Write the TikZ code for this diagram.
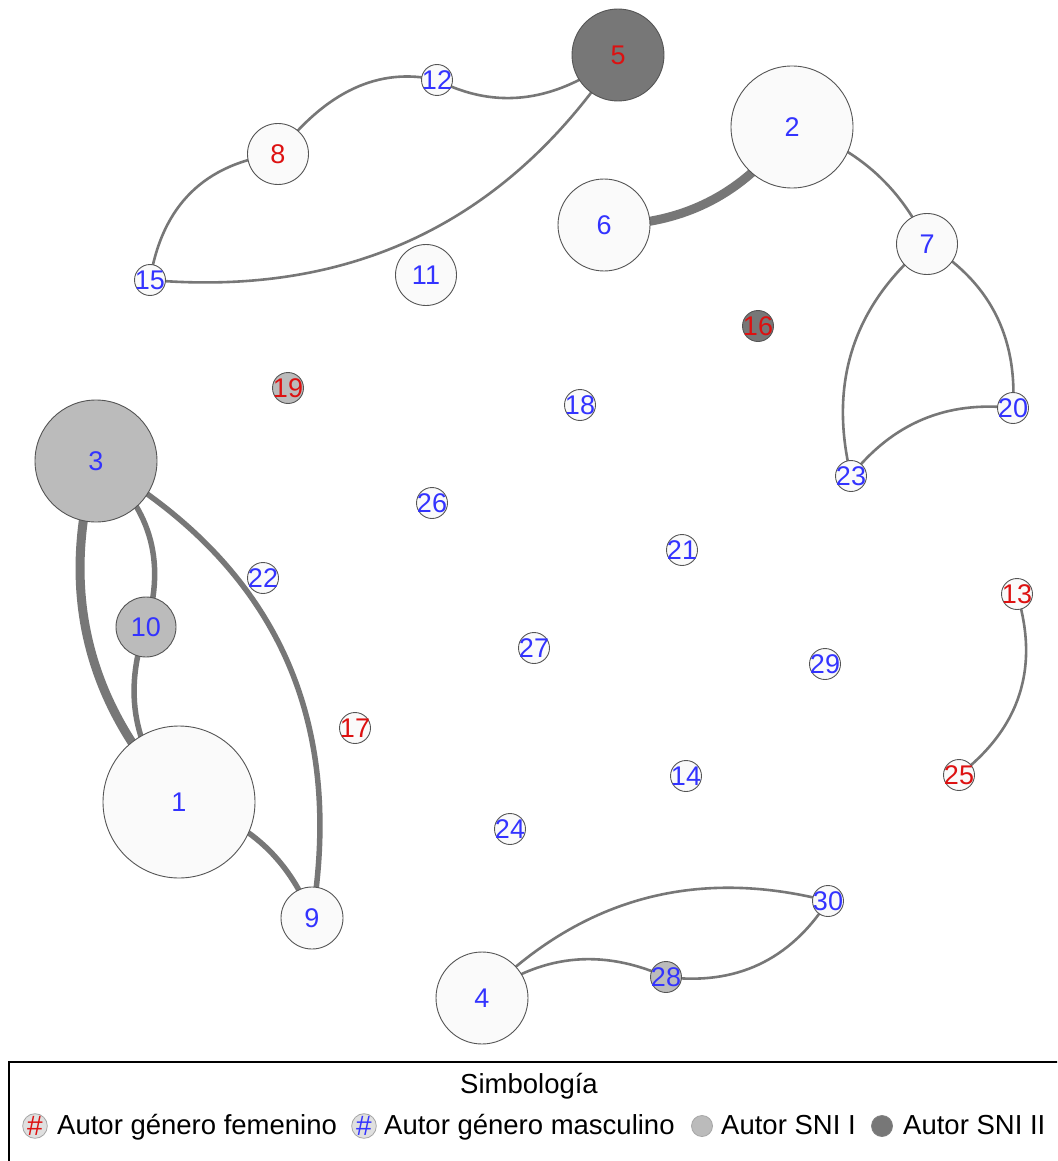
\documentclass[tikz,border=0pt]{standalone}
\usepackage{fontspec}
\setmainfont{Liberation Sans}
\usetikzlibrary{calc,backgrounds}
\definecolor{edgegray}{HTML}{777777}
\definecolor{nodefill}{HTML}{FAFAFA}
\definecolor{snione}{HTML}{BBBBBB}
\definecolor{snitwo}{HTML}{777777}
\definecolor{fem}{HTML}{DD1111}
\definecolor{masc}{HTML}{3333FF}
\definecolor{ringgray}{HTML}{555555}
\tikzset{
  author/.style={circle, draw=ringgray, line width=0.9pt, fill=nodefill, inner sep=0pt, minimum size=#1},
  sni1/.style={fill=snione},
  sni2/.style={fill=snitwo},
  lab/.style={font=\fontsize{27}{30}\selectfont, inner sep=0pt},
  labf/.style={lab, text=fem},
  labm/.style={lab, text=masc},
  edge/.style={draw=edgegray, line cap=round},
  thinedge/.style={line width=2.6pt},
  mededge/.style={line width=5.5pt},
  thickedge/.style={line width=9pt},
  legtext/.style={font=\fontsize{27.5}{30}\selectfont, inner sep=0pt},
  legdot/.style={circle, inner sep=0pt, minimum size=21pt, line width=0.8pt},
  hashdot/.style={legdot, fill=black!12, draw=black!35, font=\fontsize{28}{28}\selectfont},
}
\newcommand\qedge[4][thinedge]{\draw[edge,#1] (#2.center) .. controls ($(#2.center)!0.6667!(#4)$) and ($(#3.center)!0.6667!(#4)$) .. (#3.center);}
\begin{document}
\begin{tikzpicture}[x=1pt,y=-1pt]
\clip (0,0) rectangle (1057,1161);
% nodes
\node[author=152pt, label={[labm]center:1}] (n1) at (179,802) {};
\node[author=122pt, label={[labm]center:2}] (n2) at (792,127) {};
\node[author=122pt, sni1, label={[labm]center:3}] (n3) at (96,461) {};
\node[author=92pt, label={[labm]center:4}] (n4) at (482,998) {};
\node[author=92pt, sni2, label={[labf]center:5}] (n5) at (618,55) {};
\node[author=92pt, label={[labm]center:6}] (n6) at (604,225) {};
\node[author=61pt, label={[labm]center:7}] (n7) at (927,244) {};
\node[author=61pt, label={[labf]center:8}] (n8) at (278,154) {};
\node[author=62pt, label={[labm]center:9}] (n9) at (312,918) {};
\node[author=60pt, sni1, label={[labm]center:10}] (n10) at (146,627) {};
\node[author=61pt, label={[labm]center:11}] (n11) at (426,275) {};
\node[author=31pt, label={[labm]center:12}] (n12) at (437,80) {};
\node[author=31pt, label={[labf]center:13}] (n13) at (1017,594) {};
\node[author=31pt, label={[labm]center:14}] (n14) at (686,776) {};
\node[author=31pt, label={[labm]center:15}] (n15) at (150,280) {};
\node[author=31pt, sni2, label={[labf]center:16}] (n16) at (758,326) {};
\node[author=31pt, label={[labf]center:17}] (n17) at (355,728) {};
\node[author=31pt, label={[labm]center:18}] (n18) at (580,405) {};
\node[author=31pt, sni1, label={[labf]center:19}] (n19) at (288,388) {};
\node[author=31pt, label={[labm]center:20}] (n20) at (1013,408) {};
\node[author=31pt, label={[labm]center:21}] (n21) at (682,550) {};
\node[author=31pt, label={[labm]center:22}] (n22) at (263,578) {};
\node[author=31pt, label={[labm]center:23}] (n23) at (851,476) {};
\node[author=31pt, label={[labm]center:24}] (n24) at (510,829) {};
\node[author=31pt, label={[labf]center:25}] (n25) at (959,775) {};
\node[author=31pt, label={[labm]center:26}] (n26) at (432,503) {};
\node[author=31pt, label={[labm]center:27}] (n27) at (534,648) {};
\node[author=31pt, sni1, label={[labm]center:28}] (n28) at (666,977) {};
\node[author=31pt, label={[labm]center:29}] (n29) at (825,664) {};
\node[author=31pt, label={[labm]center:30}] (n30) at (828,901) {};
% edges
\begin{scope}[on background layer]
\fill[white] (0,0) rectangle (1057,1161);
\qedge{n12}{n5}{526.5,126}
\qedge{n8}{n12}{350,60}
\qedge{n15}{n8}{168,168}
\qedge{n5}{n15}{452,306}
\qedge[thickedge]{n6}{n2}{724,225.5}
\qedge{n2}{n7}{885.7,155.3}
\qedge{n7}{n20}{1019.6,299.3}
\qedge{n7}{n23}{816.8,335.7}
\qedge{n23}{n20}{913.4,396.8}
\qedge{n13}{n25}{1050.8,704.2}
\qedge{n4}{n30}{627,849.5}
\qedge{n4}{n28}{567.6,932.8}
\qedge{n28}{n30}{770.8,990}
\qedge[thickedge]{n3}{n1}{40.3,655.1}
\qedge[mededge]{n3}{n10}{177.2,527}
\qedge[mededge]{n10}{n1}{110.9,724.3}
\qedge[mededge]{n3}{n9}{362,614}
\qedge[mededge]{n1}{n9}{275.9,825}
\end{scope}
% legend
\draw[line width=2pt] (9,1062) rectangle (1075,1180);
\node[legtext, anchor=base] (ltitle) at (529,1093) {Simbología};
\node[hashdot, text=fem] (lfem) at (35,1126) {\#};
\node[legtext, anchor=base west] (tfem) at (57,1134) {Autor género femenino};
\node[hashdot, text=masc] (lmasc) at (364,1126) {\#};
\node[legtext, anchor=base west] (tmasc) at (384,1134) {Autor género masculino};
\node[legdot, fill=snione, draw=black!35] (lsni1) at (702,1126) {};
\node[legtext, anchor=base west] (tsni1) at (721,1134) {Autor SNI I};
\node[legdot, fill=snitwo, draw=black!50] (lsni2) at (882,1126) {};
\node[legtext, anchor=base west] (tsni2) at (903,1134) {Autor SNI II};
\end{tikzpicture}
\end{document}
